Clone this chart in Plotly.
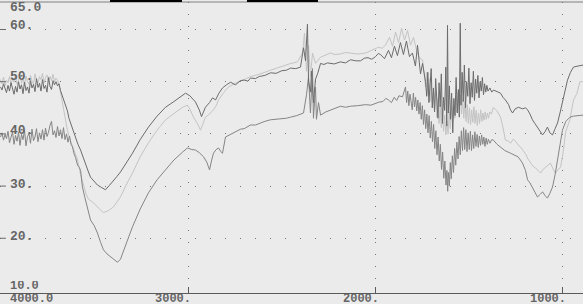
import plotly.graph_objects as go

# ---- data: (wavenumber cm-1, %T) for the three spectra ----
spec_a = [
    (4000, 49.0), (3992, 48.4), (3984, 49.6), (3976, 48.9), (3968, 47.9), (3960, 49.3), (3952, 48.2),
    (3944, 49.8), (3936, 48.7), (3928, 47.6), (3920, 49.1), (3912, 48.0), (3904, 50.0), (3896, 48.6),
    (3888, 49.4), (3880, 47.7), (3872, 49.9), (3864, 48.3), (3856, 49.0), (3848, 47.8), (3840, 50.2),
    (3832, 48.8), (3824, 49.5), (3816, 48.1), (3808, 50.6), (3800, 48.9), (3792, 49.7), (3784, 48.2),
    (3776, 50.4), (3768, 48.7), (3760, 49.3), (3752, 48.0), (3744, 50.8), (3736, 49.1), (3728, 48.5),
    (3720, 50.2), (3712, 49.4), (3704, 50.0), (3696, 49.2), (3688, 49.6), (3680, 48.3), (3672, 47.4),
    (3664, 46.3), (3656, 45.6), (3643, 44.4), (3635, 43.0), (3627, 42.1), (3613, 40.6), (3600, 39.4),
    (3587, 38.0), (3573, 36.9), (3560, 35.5), (3547, 34.4), (3533, 32.9), (3520, 31.7), (3500, 30.8),
    (3483, 30.2), (3460, 29.7), (3440, 29.3), (3420, 30.1), (3397, 31.2), (3380, 31.8), (3360, 32.7),
    (3330, 34.4), (3296, 36.3), (3255, 38.9), (3211, 41.3), (3165, 43.4), (3120, 45.1), (3075, 46.2),
    (3029, 47.4), (3013, 47.8), (2990, 47.3), (2960, 46.1), (2940, 44.6), (2928, 43.3), (2907, 45.1),
    (2885, 46.0), (2869, 46.9), (2853, 46.5), (2835, 47.8), (2816, 48.8), (2795, 49.4), (2773, 49.9),
    (2747, 49.4), (2720, 50.2), (2700, 50.3), (2680, 50.1), (2667, 50.7), (2640, 50.6), (2620, 51.0),
    (2590, 51.2), (2560, 51.7), (2530, 51.6), (2500, 52.1), (2475, 52.2), (2453, 52.6), (2425, 52.5),
    (2400, 52.8), (2389, 55.0), (2384, 56.5), (2373, 54.0), (2363, 61.0), (2357, 50.0), (2347, 48.0),
    (2341, 52.0), (2331, 46.0), (2320, 50.5), (2309, 51.5), (2293, 53.5), (2275, 53.3), (2256, 53.6),
    (2220, 53.4), (2187, 53.8), (2160, 53.6), (2133, 54.2), (2105, 54.0), (2080, 54.0), (2060, 54.5),
    (2040, 54.6), (2020, 54.3), (2000, 54.8), (1985, 55.4), (1973, 55.2), (1952, 54.4), (1931, 56.0),
    (1915, 54.6), (1899, 56.8), (1883, 55.0), (1867, 57.5), (1851, 55.2), (1835, 57.8), (1819, 54.8),
    (1803, 55.5), (1787, 53.0), (1776, 57.0), (1760, 51.5), (1749, 53.5), (1733, 50.0), (1727, 47.2),
    (1721, 51.8), (1715, 46.0), (1709, 49.5), (1703, 52.5), (1697, 45.0), (1691, 48.8), (1685, 44.2),
    (1679, 50.6), (1673, 46.5), (1667, 43.0), (1661, 49.8), (1655, 45.2), (1649, 51.5), (1643, 42.0),
    (1637, 47.0), (1631, 44.5), (1625, 52.8), (1620, 41.5), (1616, 60.8), (1612, 44.0), (1606, 49.2),
    (1600, 42.8), (1594, 47.8), (1588, 40.2), (1582, 46.8), (1576, 43.5), (1570, 50.8), (1564, 44.0),
    (1558, 48.5), (1553, 43.2), (1548, 61.2), (1544, 45.5), (1538, 51.8), (1532, 46.2), (1526, 53.2),
    (1520, 45.0), (1514, 50.0), (1508, 47.2), (1502, 52.6), (1496, 45.8), (1490, 49.8), (1484, 47.0),
    (1478, 52.0), (1472, 46.4), (1466, 50.5), (1460, 47.8), (1454, 51.2), (1448, 46.9), (1442, 50.0),
    (1436, 48.2), (1430, 50.8), (1424, 47.5), (1418, 49.6), (1412, 48.0), (1406, 49.3), (1400, 48.2),
    (1390, 48.8), (1380, 48.0), (1371, 48.4), (1352, 48.1), (1333, 47.8), (1320, 47.0), (1307, 46.5),
    (1290, 45.6), (1280, 44.6), (1269, 44.0), (1255, 44.8), (1237, 45.1), (1216, 44.8), (1200, 45.0),
    (1189, 44.6), (1176, 43.8), (1163, 42.7), (1150, 42.0), (1136, 41.3), (1122, 40.6), (1109, 39.8),
    (1096, 40.4), (1083, 41.3), (1070, 40.2), (1056, 39.8), (1042, 41.0), (1029, 42.1), (1016, 44.0),
    (1003, 45.9), (990, 48.2), (976, 50.3), (960, 51.8), (944, 52.8), (920, 53.0), (891, 53.2),
]

spec_b = [
    (4000, 50.4), (3992, 49.6), (3984, 50.9), (3976, 49.2), (3968, 50.3), (3960, 49.8), (3952, 51.0),
    (3944, 49.4), (3936, 50.6), (3928, 49.9), (3920, 51.3), (3912, 49.5), (3904, 50.2), (3896, 51.4),
    (3888, 49.7), (3880, 50.8), (3872, 49.3), (3864, 51.1), (3856, 50.0), (3848, 49.5), (3840, 51.2),
    (3832, 50.1), (3824, 49.6), (3816, 51.5), (3808, 50.2), (3800, 49.8), (3792, 51.0), (3784, 50.4),
    (3776, 51.6), (3768, 49.7), (3760, 50.8), (3752, 51.3), (3744, 49.9), (3736, 51.0), (3728, 50.2),
    (3720, 51.4), (3712, 50.0), (3704, 50.7), (3696, 50.3), (3688, 49.4), (3680, 48.0), (3670, 46.0),
    (3659, 44.5), (3650, 42.2), (3643, 40.7), (3630, 39.0), (3616, 37.5), (3603, 36.4), (3589, 35.0),
    (3573, 32.2), (3557, 29.9), (3544, 28.5), (3531, 27.5), (3517, 27.1), (3504, 26.8), (3478, 25.8),
    (3451, 24.9), (3425, 25.3), (3397, 26.0), (3380, 26.9), (3360, 27.9), (3330, 30.2), (3296, 32.5),
    (3255, 35.6), (3211, 38.3), (3165, 40.7), (3120, 42.7), (3075, 43.9), (3029, 45.1), (3003, 45.5),
    (2988, 44.6), (2971, 43.2), (2950, 42.0), (2933, 40.7), (2920, 41.8), (2907, 43.2), (2885, 43.8),
    (2864, 44.6), (2850, 45.4), (2837, 46.5), (2810, 47.9), (2784, 49.0), (2747, 49.7), (2720, 50.2),
    (2700, 50.4), (2667, 51.0), (2640, 51.2), (2620, 51.5), (2590, 51.8), (2560, 52.2), (2530, 52.6),
    (2500, 53.0), (2460, 53.4), (2416, 53.8), (2389, 55.5), (2379, 59.3), (2368, 52.0), (2357, 57.0),
    (2347, 51.0), (2336, 55.5), (2320, 53.5), (2293, 54.7), (2265, 55.1), (2240, 55.5), (2215, 55.2),
    (2190, 55.3), (2160, 55.6), (2133, 55.5), (2095, 55.3), (2053, 55.5), (2020, 56.0), (1984, 56.6),
    (1965, 56.4), (1947, 57.0), (1925, 58.5), (1909, 56.8), (1893, 59.5), (1877, 57.5), (1861, 60.2),
    (1845, 58.0), (1829, 59.8), (1813, 57.0), (1797, 58.5), (1781, 56.0), (1765, 54.5), (1749, 54.2),
    (1733, 49.0), (1727, 51.8), (1721, 47.5), (1715, 50.6), (1709, 46.2), (1703, 49.4), (1697, 45.0),
    (1691, 48.2), (1685, 44.6), (1679, 47.9), (1673, 43.2), (1667, 46.8), (1661, 42.0), (1655, 45.5),
    (1649, 41.2), (1643, 44.8), (1637, 40.5), (1631, 43.6), (1625, 39.8), (1619, 42.5), (1613, 40.0),
    (1607, 44.2), (1601, 41.0), (1595, 45.0), (1589, 42.5), (1583, 46.4), (1577, 43.0), (1571, 47.2),
    (1565, 44.2), (1559, 48.0), (1553, 44.6), (1547, 47.5), (1541, 43.8), (1535, 46.8), (1529, 43.0),
    (1523, 46.2), (1517, 42.4), (1511, 45.6), (1505, 42.0), (1499, 45.0), (1493, 41.8), (1487, 44.6),
    (1481, 42.2), (1475, 45.2), (1469, 42.0), (1463, 44.5), (1457, 41.6), (1451, 44.0), (1445, 42.0),
    (1439, 44.6), (1433, 42.4), (1427, 44.0), (1421, 42.6), (1415, 44.2), (1409, 42.8), (1403, 44.0),
    (1397, 43.0), (1391, 44.2), (1382, 43.8), (1371, 45.1), (1352, 44.4), (1333, 43.2), (1320, 41.2),
    (1307, 38.8), (1290, 38.6), (1280, 38.2), (1265, 39.0), (1253, 38.6), (1240, 37.9), (1227, 37.5),
    (1213, 36.8), (1200, 36.2), (1187, 35.2), (1173, 34.4), (1160, 33.8), (1147, 33.5), (1133, 32.9),
    (1120, 32.5), (1106, 33.2), (1093, 33.6), (1080, 34.1), (1067, 34.4), (1053, 33.3), (1040, 32.5),
    (1026, 33.2), (1013, 33.6), (1000, 36.3), (985, 40.5), (963, 42.7), (944, 46.5), (925, 47.8),
    (910, 50.0), (891, 50.0),
]

spec_c = [
    (4000, 39.4), (3992, 40.2), (3984, 38.8), (3976, 39.9), (3968, 39.1), (3960, 40.5), (3952, 38.3),
    (3944, 39.6), (3936, 40.4), (3928, 38.0), (3920, 39.7), (3912, 38.6), (3904, 40.3), (3896, 37.8),
    (3888, 39.9), (3880, 38.9), (3872, 40.7), (3864, 37.7), (3856, 39.5), (3848, 40.1), (3840, 38.2),
    (3832, 40.9), (3824, 38.7), (3816, 39.4), (3808, 41.0), (3800, 38.5), (3792, 40.2), (3784, 39.0),
    (3776, 40.8), (3768, 38.8), (3760, 41.1), (3752, 39.5), (3744, 40.3), (3736, 41.6), (3728, 42.4),
    (3720, 39.8), (3712, 40.6), (3704, 39.3), (3696, 41.4), (3688, 39.6), (3680, 40.8), (3672, 39.1),
    (3664, 41.2), (3656, 38.9), (3648, 40.0), (3640, 38.4), (3632, 39.6), (3624, 38.0), (3616, 37.5),
    (3608, 36.2), (3600, 35.5), (3589, 34.0), (3580, 33.6), (3573, 33.0), (3563, 29.8), (3550, 27.8),
    (3536, 26.0), (3528, 24.6), (3520, 23.5), (3500, 22.4), (3483, 21.0), (3466, 19.2), (3451, 17.8),
    (3432, 17.0), (3413, 16.4), (3395, 15.9), (3376, 15.4), (3360, 16.0), (3349, 17.2), (3325, 19.4),
    (3296, 22.2), (3255, 25.6), (3211, 28.7), (3165, 31.2), (3120, 33.1), (3075, 35.0), (3029, 36.5),
    (3003, 37.3), (2980, 37.0), (2960, 36.9), (2940, 36.4), (2917, 35.6), (2900, 34.6), (2885, 33.1),
    (2875, 34.8), (2864, 36.3), (2850, 37.0), (2837, 37.3), (2825, 36.6), (2816, 36.3), (2800, 39.4),
    (2775, 39.9), (2747, 40.4), (2720, 40.9), (2700, 41.0), (2667, 41.7), (2640, 41.7), (2620, 42.0),
    (2590, 42.4), (2560, 42.7), (2530, 42.8), (2500, 42.9), (2475, 43.0), (2453, 43.2), (2420, 43.5),
    (2384, 44.0), (2368, 47.5), (2357, 51.0), (2347, 44.0), (2336, 52.5), (2331, 43.0), (2320, 49.0),
    (2315, 42.8), (2304, 46.0), (2293, 43.6), (2265, 44.2), (2240, 44.6), (2215, 44.9), (2187, 45.3),
    (2160, 45.1), (2133, 45.3), (2095, 45.4), (2053, 45.6), (2025, 45.5), (2000, 45.9), (1980, 46.1),
    (1960, 46.2), (1945, 46.8), (1931, 46.5), (1915, 46.0), (1900, 47.0), (1887, 46.4), (1875, 47.3),
    (1856, 47.1), (1840, 49.0), (1834, 46.0), (1828, 48.2), (1822, 45.4), (1816, 47.6), (1810, 46.2),
    (1804, 44.6), (1798, 47.8), (1792, 45.2), (1786, 47.0), (1780, 44.4), (1774, 46.5), (1768, 43.8),
    (1762, 46.0), (1756, 42.8), (1750, 45.4), (1744, 41.8), (1738, 44.6), (1732, 41.0), (1726, 43.8),
    (1720, 40.2), (1714, 43.5), (1708, 39.2), (1702, 42.4), (1696, 38.5), (1690, 41.8), (1684, 37.2),
    (1678, 40.6), (1672, 36.0), (1666, 39.4), (1660, 34.8), (1654, 38.0), (1648, 33.2), (1642, 36.5),
    (1636, 31.5), (1630, 34.8), (1624, 30.2), (1619, 33.0), (1615, 29.0), (1611, 32.6), (1606, 30.0),
    (1601, 34.5), (1596, 31.4), (1590, 35.8), (1584, 32.6), (1578, 37.2), (1572, 34.0), (1566, 38.4),
    (1560, 35.2), (1554, 39.5), (1548, 36.0), (1542, 40.6), (1536, 36.8), (1530, 41.2), (1524, 37.0),
    (1518, 40.8), (1512, 36.6), (1506, 40.2), (1500, 37.0), (1494, 40.5), (1488, 36.8), (1482, 39.8),
    (1476, 37.2), (1470, 40.4), (1464, 37.6), (1458, 39.9), (1452, 37.4), (1446, 39.6), (1440, 37.8),
    (1434, 39.8), (1428, 38.0), (1422, 39.4), (1416, 37.6), (1410, 39.2), (1404, 38.0), (1398, 39.0),
    (1390, 38.2), (1380, 38.9), (1371, 38.8), (1352, 38.0), (1333, 37.5), (1310, 36.8), (1280, 36.3),
    (1260, 36.0), (1240, 35.6), (1227, 35.0), (1216, 34.4), (1200, 33.0), (1189, 31.2), (1176, 30.6),
    (1163, 29.8), (1150, 29.0), (1136, 27.9), (1122, 28.4), (1109, 28.9), (1096, 28.2), (1083, 27.7),
    (1070, 28.6), (1056, 29.8), (1042, 32.2), (1029, 35.0), (1016, 38.0), (1003, 40.7), (985, 42.4),
    (963, 43.2), (944, 43.4), (920, 43.5), (891, 43.6),
]

x_ticks = [3000, 2000, 1000]
x_tick_labels = ["3000.", "2000.", "1000."]
y_grid = [60, 50, 40, 30, 20]
y_labels = ["65.0", "60.", "50.", "40.", "30.", "20.", "10.0"]
y_label_pos = [64.25, 60.86, 51.0, 40.7, 30.4, 20.5, 10.9]

W, H = 583, 304
M_T, M_B = 2, 11
PH = H - M_T - M_B
X_RANGE = [4002.7, 893.3]
Y_RANGE = [9.51, 65.27]
BG = "#ebebeb"
TXT = "#666666"
FONT = "Liberation Mono"


def xy(spec):
    return [p[0] for p in spec], [p[1] for p in spec]


fig = go.Figure()
for spec, col in [(spec_b, "#c4c4c4"), (spec_c, "#858585"), (spec_a, "#6c6c6c")]:
    xs, ys = xy(spec)
    fig.add_trace(go.Scatter(x=xs, y=ys, mode="lines", line=dict(color=col, width=1), showlegend=False))

fig.update_layout(
    width=W, height=H,
    margin=dict(l=0, r=0, t=M_T, b=M_B, pad=0),
    paper_bgcolor=BG, plot_bgcolor=BG,
    xaxis=dict(range=X_RANGE, tickvals=x_ticks, showticklabels=False,
               ticks="inside", ticklen=6, tickcolor="#5a5a5a", tickwidth=1,
               showgrid=True, gridcolor="#777777", gridwidth=1, griddash="1px,11px",
               showline=True, linecolor="#5a5a5a", linewidth=1, zeroline=False, mirror=False),
    yaxis=dict(range=Y_RANGE, tickvals=y_grid, showticklabels=False, ticks="",
               showgrid=True, gridcolor="#777777", gridwidth=1, griddash="1px,14px",
               showline=False, zeroline=False),
)

lab_font = dict(family=FONT, size=13, color=TXT, weight="bold")
for txt, v in zip(y_labels, y_label_pos):
    fig.add_annotation(x=8 / W, xref="paper", y=v, yref="y", text=txt, showarrow=False,
                       xanchor="left", yanchor="middle", height=10, valign="middle",
                       font=lab_font if txt != "10.0" else dict(lab_font, size=12))
for v in y_grid:
    fig.add_shape(type="line", xref="paper", yref="y", x0=0, x1=6 / W, y0=v, y1=v,
                  line=dict(color="#6a6a6a", width=1))

xl_font = dict(family=FONT, size=12, color=TXT, weight="bold")
fig.add_annotation(x=8 / W, xref="paper", y=-5.5 / PH, yref="paper", text="4000.0", showarrow=False,
                   xanchor="left", yanchor="middle", height=9, valign="middle", font=xl_font)
for t, lab in zip(x_ticks, x_tick_labels):
    fig.add_annotation(x=t, xref="x", xshift=5, y=-5.5 / PH, yref="paper", text=lab, showarrow=False,
                       xanchor="right", yanchor="middle", height=9, valign="middle", font=xl_font)

fig.add_shape(type="line", xref="paper", yref="paper", x0=0, x1=1, y0=1, y1=1,
              line=dict(color="#808080", width=1))
for a, b in [(110, 182), (247, 318)]:
    fig.add_shape(type="rect", xref="paper", yref="paper", x0=a / W, x1=b / W, y0=1, y1=1 + 2.5 / PH,
                  fillcolor="#000000", line=dict(width=0))

fig.write_html("out.html")
